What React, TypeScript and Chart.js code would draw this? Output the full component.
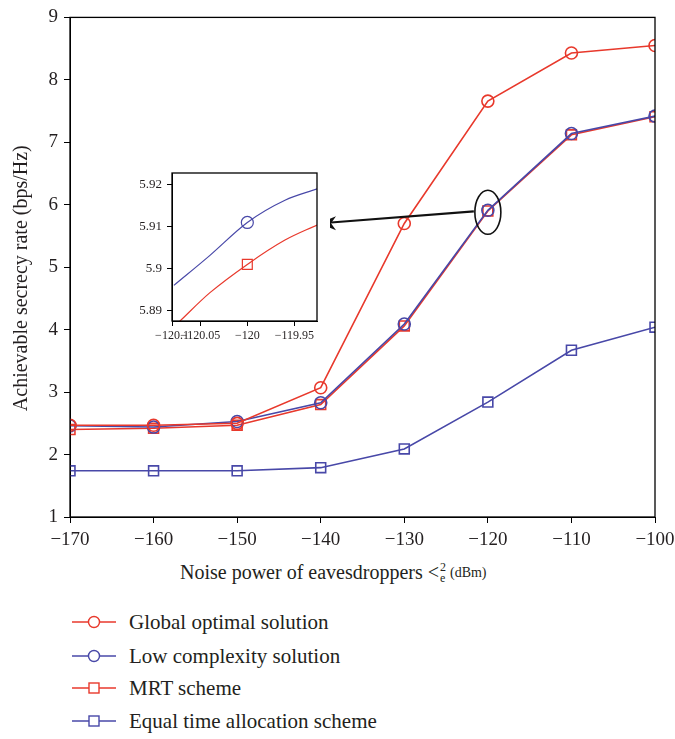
import React, { useEffect, useRef } from 'react';
import { Chart, registerables } from 'chart.js';

Chart.register(...registerables);

// ---------- data ----------
const noisePower = [-170, -160, -150, -140, -130, -120, -110, -100];
const globalOptimal = [2.47, 2.47, 2.5, 3.07, 5.7, 7.66, 8.43, 8.55];
const lowComplexity = [2.46, 2.44, 2.53, 2.83, 4.09, 5.911, 7.14, 7.42];
const mrtScheme = [2.4, 2.42, 2.47, 2.8, 4.06, 5.901, 7.12, 7.41];
const equalTime = [1.74, 1.74, 1.74, 1.79, 2.09, 2.84, 3.67, 4.04];

const seriesNames = [
  'Global optimal solution',
  'Low complexity solution',
  'MRT scheme',
  'Equal time allocation scheme',
];
const yAxisTitle = 'Achievable secrecy rate (bps/Hz)';

// inset (zoom near -120 dBm)
const insetBlueX = [-120.078, -120.04, -120, -119.96, -119.926];
const insetBlueY = [5.896, 5.9031, 5.911, 5.9163, 5.919];
const insetRedX = [-120.072, -120.04, -120, -119.96, -119.926];
const insetRedY = [5.8874, 5.8942, 5.901, 5.9068, 5.9104];
const insetMarkerIndex = 2;
const insetXTickValues = [-120.08, -120.05, -120, -119.95];
const insetXTickLabels = ['\u2212120.1', '\u2212120.05', '\u2212120', '\u2212119.95'];
const insetYTickValues = [5.89, 5.9, 5.91, 5.92];

// ---------- style ----------
const FONT = '"Liberation Serif", "Times New Roman", serif';
const RED = '#e8392c';
const BLUE = '#4848a8';
const TEXT = '#231f20';

const minus = (v: number) => String(v).replace('-', '\u2212');

const boxPlugin = {
  id: 'boxFrame',
  afterDraw(chart: any) {
    const { ctx, chartArea: a } = chart;
    ctx.save();
    ctx.strokeStyle = '#000';
    ctx.lineWidth = 1.3;
    ctx.strokeRect(a.left, a.top, a.right - a.left, a.bottom - a.top);
    ctx.restore();
  },
};

const yTitlePlugin = {
  id: 'yTitle',
  afterDraw(chart: any) {
    const { ctx, chartArea: a } = chart;
    ctx.save();
    ctx.translate(22, (a.top + a.bottom) / 2 + 11);
    ctx.rotate(-Math.PI / 2);
    ctx.fillStyle = TEXT;
    ctx.font = `20px ${FONT}`;
    ctx.textAlign = 'center';
    ctx.textBaseline = 'middle';
    ctx.fillText(yAxisTitle, 0, 0);
    ctx.restore();
  },
};

const calloutPlugin = {
  id: 'callout',
  afterDatasetsDraw(chart: any) {
    const { ctx, scales } = chart;
    const cx = scales.x.getPixelForValue(noisePower[5]);
    const cy = scales.y.getPixelForValue(lowComplexity[5]);
    ctx.save();
    ctx.strokeStyle = '#111';
    ctx.fillStyle = '#111';
    ctx.lineWidth = 1.6;
    ctx.beginPath();
    ctx.ellipse(cx, cy + 2, 13, 22, 0, 0, Math.PI * 2);
    ctx.stroke();
    // arrow to inset
    const sx = cx - 14;
    const sy = cy + 1;
    const tx = 319;
    const ty = cy + 13;
    ctx.lineWidth = 2.2;
    ctx.beginPath();
    ctx.moveTo(sx, sy);
    ctx.lineTo(tx + 12, ty - 0.8);
    ctx.stroke();
    ctx.beginPath();
    ctx.moveTo(tx, ty);
    ctx.lineTo(tx + 17, ty - 7);
    ctx.lineTo(tx + 12, ty);
    ctx.lineTo(tx + 17, ty + 7);
    ctx.closePath();
    ctx.fill();
    ctx.restore();
  },
};

function makeDataset(label: string, ys: number[], color: string, style: string) {
  return {
    label,
    data: noisePower.map((x, i) => ({ x, y: ys[i] })),
    borderColor: color,
    backgroundColor: 'rgba(0,0,0,0)',
    borderWidth: 1.6,
    pointStyle: style,
    pointRadius: style === 'rect' ? 7 : 6,
    pointBorderWidth: 1.6,
    pointBorderColor: color,
    pointBackgroundColor: 'rgba(0,0,0,0)',
    tension: 0,
  };
}

function LegendRow({ cy, color, style, label }: { cy: number; color: string; style: string; label: string }) {
  return (
    <div style={{ position: 'absolute', left: 72, top: cy - 12, height: 24, width: 400 }}>
      <svg width={44} height={24} style={{ position: 'absolute', left: 0, top: 0 }}>
        <line x1={0} y1={12} x2={44} y2={12} stroke={color} strokeWidth={1.4} />
        {style === 'circle' ? (
          <circle cx={22} cy={12} r={5.5} fill="#fff" stroke={color} strokeWidth={1.4} />
        ) : (
          <rect x={17} y={7} width={10} height={10} fill="#fff" stroke={color} strokeWidth={1.4} />
        )}
      </svg>
      <span
        style={{
          position: 'absolute',
          left: 57,
          top: 0,
          lineHeight: '24px',
          fontSize: 21,
          color: TEXT,
          whiteSpace: 'nowrap',
          fontFamily: FONT,
        }}
      >
        {label}
      </span>
    </div>
  );
}

export default function App() {
  const mainRef = useRef<HTMLCanvasElement | null>(null);
  const insetRef = useRef<HTMLCanvasElement | null>(null);

  useEffect(() => {
    if (!mainRef.current || !insetRef.current) return;
    const tickFont = { family: FONT, size: 19 };

    const main = new Chart(mainRef.current, {
      type: 'line',
      data: {
        datasets: [
          makeDataset(seriesNames[0], globalOptimal, RED, 'circle'),
          makeDataset(seriesNames[1], lowComplexity, BLUE, 'circle'),
          makeDataset(seriesNames[2], mrtScheme, RED, 'rect'),
          makeDataset(seriesNames[3], equalTime, BLUE, 'rect'),
        ] as any,
      },
      options: {
        responsive: false,
        animation: false,
        devicePixelRatio: 1,
        layout: { padding: { top: 15, right: 20, left: 0, bottom: 0 } },
        plugins: { legend: { display: false }, tooltip: { enabled: false } },
        scales: {
          x: {
            type: 'linear',
            min: -170,
            max: -100,
            ticks: {
              stepSize: 10,
              color: TEXT,
              font: tickFont,
              padding: 6,
              maxRotation: 0,
              callback: (v: any) => minus(v),
            },
            grid: { drawOnChartArea: false, drawTicks: true, tickLength: 6, color: '#000' },
            border: { display: true, color: '#000' },
            afterFit: (s: any) => {
              s.height = 43;
              s.paddingRight = 0;
            },
          },
          y: {
            type: 'linear',
            min: 1,
            max: 9,
            ticks: { stepSize: 1, color: TEXT, font: tickFont, padding: 6 },
            grid: { drawOnChartArea: false, drawTicks: true, tickLength: 6, color: '#000' },
            border: { display: true, color: '#000' },
            afterFit: (s: any) => {
              s.width = 70;
            },
          },
        },
      } as any,
      plugins: [boxPlugin, calloutPlugin, yTitlePlugin],
    });

    const inset = new Chart(insetRef.current, {
      type: 'line',
      data: {
        datasets: [
          {
            data: insetBlueX.map((x, i) => ({ x, y: insetBlueY[i] })),
            borderColor: BLUE,
            borderWidth: 1.2,
            pointStyle: 'circle',
            pointRadius: insetBlueX.map((_, i) => (i === insetMarkerIndex ? 6 : 0)),
            pointBorderColor: BLUE,
            pointBorderWidth: 1.2,
            pointBackgroundColor: 'rgba(0,0,0,0)',
            cubicInterpolationMode: 'monotone',
          },
          {
            data: insetRedX.map((x, i) => ({ x, y: insetRedY[i] })),
            borderColor: RED,
            borderWidth: 1.2,
            pointStyle: 'rect',
            pointRadius: insetRedX.map((_, i) => (i === insetMarkerIndex ? 7 : 0)),
            pointBorderColor: RED,
            pointBorderWidth: 1.2,
            pointBackgroundColor: 'rgba(0,0,0,0)',
            cubicInterpolationMode: 'monotone',
          },
        ] as any,
      },
      options: {
        responsive: false,
        animation: false,
        devicePixelRatio: 1,
        layout: { padding: { top: 13, right: 13, left: 0, bottom: 0 } },
        plugins: { legend: { display: false }, tooltip: { enabled: false } },
        scales: {
          x: {
            type: 'linear',
            min: -120.08,
            max: -119.926,
            afterBuildTicks: (s: any) => {
              s.ticks = insetXTickValues.map((value) => ({ value }));
            },
            ticks: {
              autoSkip: false,
              maxRotation: 0,
              color: TEXT,
              font: { family: FONT, size: 12 },
              padding: 3,
              callback: (_v: any, i: number) => insetXTickLabels[i],
            },
            grid: { drawOnChartArea: false, drawTicks: true, tickLength: 5, color: '#000' },
            border: { display: true, color: '#000' },
            afterFit: (s: any) => {
              s.height = 29;
            },
          },
          y: {
            type: 'linear',
            min: 5.8875,
            max: 5.9228,
            afterBuildTicks: (s: any) => {
              s.ticks = insetYTickValues.map((value) => ({ value }));
            },
            ticks: {
              autoSkip: false,
              color: TEXT,
              font: { family: FONT, size: 13 },
              padding: 5,
              callback: (v: any) => String(Number(Number(v).toFixed(2))),
            },
            grid: { drawOnChartArea: false, drawTicks: true, tickLength: 5, color: '#000' },
            border: { display: true, color: '#000' },
            afterFit: (s: any) => {
              s.width = 52;
            },
          },
        },
      } as any,
      plugins: [boxPlugin],
    });

    return () => {
      main.destroy();
      inset.destroy();
    };
  }, []);

  const rowsY = [622, 656, 688, 721];
  const colors = [RED, BLUE, RED, BLUE];
  const styles = ['circle', 'circle', 'rect', 'rect'];

  return (
    <div
      style={{
        position: 'absolute',
        left: 0,
        top: 0,
        width: 675,
        height: 739,
        background: '#fff',
        fontFamily: FONT,
        overflow: 'hidden',
      }}
    >
      <canvas ref={mainRef} width={675} height={560} style={{ position: 'absolute', left: 0, top: 0 }} />
      <canvas
        ref={insetRef}
        width={210}
        height={190}
        style={{ position: 'absolute', left: 120, top: 160, background: '#fff' }}
      />
      <div
        style={{
          position: 'absolute',
          left: 180,
          top: 560,
          fontSize: 20,
          lineHeight: '20px',
          color: TEXT,
          whiteSpace: 'nowrap',
          display: 'flex',
          alignItems: 'center',
        }}
      >
        <span>Noise power of eavesdroppers &lt;</span>
        <span
          style={{
            display: 'inline-flex',
            flexDirection: 'column',
            fontSize: 12,
            lineHeight: '11px',
            marginLeft: 1,
            marginTop: 2,
          }}
        >
          <span>2</span>
          <span>e</span>
        </span>
        <span style={{ fontSize: 14, marginLeft: 4, marginTop: 2 }}>(dBm)</span>
      </div>
      {rowsY.map((cy, i) => (
        <LegendRow key={i} cy={cy} color={colors[i]} style={styles[i]} label={seriesNames[i]} />
      ))}
    </div>
  );
}
